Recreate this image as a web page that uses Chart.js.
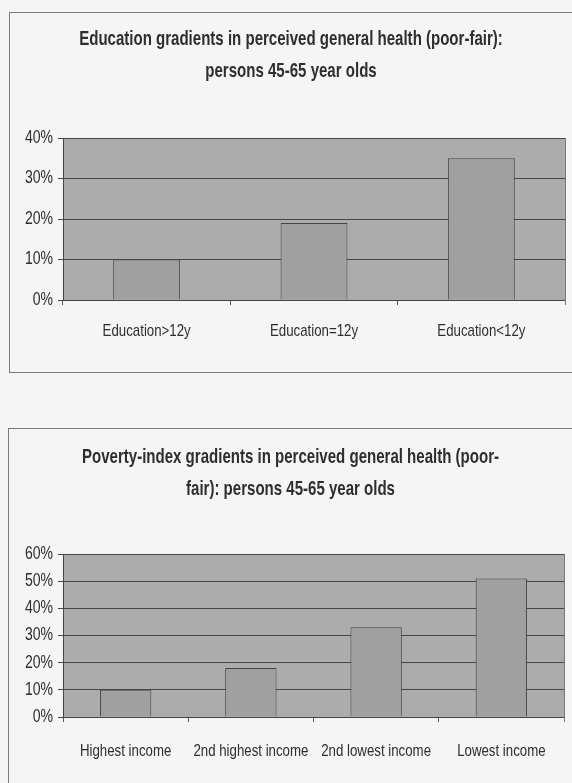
<!DOCTYPE html>
<html>
<head>
<meta charset="utf-8">
<script src="https://cdn.jsdelivr.net/npm/chart.js@4/dist/chart.umd.min.js"></script>
<style>
  html, body { margin: 0; padding: 0; background: #f5f5f5; width: 572px; height: 783px; overflow: hidden; }
  .box { position: absolute; border: 1px solid #7a7a7a; }
  #box1 { left: 9px; top: 12px; width: 580px; height: 359px; }
  #box2 { left: 8px; top: 428px; width: 580px; height: 400px; }
  canvas { position: absolute; left: 0; }
  #eduChart { top: 0; }
  #incomeChart { top: 380px; }
</style>
</head>
<body>
<div class="box" id="box1"></div>
<div class="box" id="box2"></div>
<canvas id="eduChart" width="572" height="380"></canvas>
<canvas id="incomeChart" width="572" height="403"></canvas>
<script>
// Share (%) reporting poor-fair perceived general health, persons aged 45-65
const eduCategories = ['Education>12y', 'Education=12y', 'Education<12y'];
const eduValues = [10, 19, 35];
const eduTicks = [0, 10, 20, 30, 40];
const eduTitle = ['Education gradients in perceived general health (poor-fair):', 'persons 45-65 year olds'];

const incomeCategories = ['Highest income', '2nd highest income', '2nd lowest income', 'Lowest income'];
const incomeValues = [10, 18, 33, 51];
const incomeTicks = [0, 10, 20, 30, 40, 50, 60];
const incomeTitle = ['Poverty-index gradients in perceived general health (poor-', 'fair): persons 45-65 year olds'];

const FONT = "'Liberation Sans', Arial, sans-serif";
const TEXT = '#2e2e2e';
const NARROW = 0.78; // horizontal squeeze giving a narrow-face look

// Make every text run on a canvas horizontally condensed around its anchor point,
// so left/center/right alignment is kept.
function condenseText(canvas) {
  const ctx = canvas.getContext('2d');
  const base = CanvasRenderingContext2D.prototype.fillText;
  ctx.fillText = function (text, x, y, maxWidth) {
    this.save();
    this.translate(x, y);
    this.scale(NARROW, 1);
    if (maxWidth !== undefined) base.call(this, text, 0, 0, maxWidth / NARROW);
    else base.call(this, text, 0, 0);
    this.restore();
  };
}

// grey plot-area fill plus a thin right edge
const plotArea = {
  id: 'plotArea',
  beforeDraw(chart) {
    const { ctx, chartArea: a } = chart;
    ctx.save();
    ctx.fillStyle = '#acacac';
    ctx.fillRect(a.left, a.top, a.right - a.left, a.bottom - a.top);
    ctx.restore();
  },
  afterDatasetsDraw(chart) {
    const { ctx, chartArea: a } = chart;
    ctx.save();
    ctx.strokeStyle = '#777';
    ctx.lineWidth = 1;
    ctx.beginPath();
    ctx.moveTo(a.right + 0.5, a.top);
    ctx.lineTo(a.right + 0.5, a.bottom + 5);
    ctx.stroke();
    ctx.restore();
  }
};

function drawBars(canvasId, labels, values, ticks, title, cfg) {
  const canvas = document.getElementById(canvasId);
  condenseText(canvas);
  const maxTick = ticks[ticks.length - 1];
  return new Chart(canvas, {
    type: 'bar',
    data: {
      labels: labels,
      datasets: [{
        data: values,
        backgroundColor: '#a0a0a0',
        borderColor: '#444',
        borderWidth: 1,
        categoryPercentage: 1,
        barPercentage: cfg.barPct
      }]
    },
    options: {
      responsive: false,
      animation: false,
      layout: { padding: { left: 17, right: cfg.padRight, top: 0, bottom: 0 } },
      plugins: {
        legend: { display: false },
        tooltip: { enabled: false },
        title: {
          display: true,
          text: title,
          color: TEXT,
          font: { family: FONT, size: 19.3, weight: 'bold', lineHeight: 32 / 19.3 },
          padding: { top: cfg.titleTop, bottom: cfg.titleBottom }
        }
      },
      scales: {
        x: {
          grid: { display: true, drawOnChartArea: false, drawTicks: true, tickLength: 5, color: '#555', offset: true },
          border: { display: true, color: '#444', width: 1 },
          ticks: { color: TEXT, font: { family: FONT, size: 17 }, padding: cfg.xPad, maxRotation: 0, minRotation: 0, autoSkip: false },
          afterFit: s => { s.height = cfg.xHeight; s.paddingLeft = 0; s.paddingRight = 0; }
        },
        y: {
          min: 0,
          max: maxTick,
          afterBuildTicks: s => { s.ticks = ticks.map(v => ({ value: v })); },
          ticks: { color: TEXT, font: { family: FONT, size: 18 }, padding: 5, callback: v => v + '%' },
          grid: { color: '#474747', lineWidth: 1, tickLength: 5 },
          border: { display: true, color: '#444', width: 1 },
          afterFit: s => { s.width = 46; }
        }
      }
    },
    plugins: [plotArea]
  });
}

drawBars('eduChart', eduCategories, eduValues, eduTicks, eduTitle,
  { barPct: 0.4, titleTop: 24, titleBottom: 50, xPad: 16, xHeight: 80, padRight: 7 });
drawBars('incomeChart', incomeCategories, incomeValues, incomeTicks, incomeTitle,
  { barPct: 0.41, titleTop: 62, titleBottom: 48, xPad: 19, xHeight: 66, padRight: 8 });
</script>
</body>
</html>
